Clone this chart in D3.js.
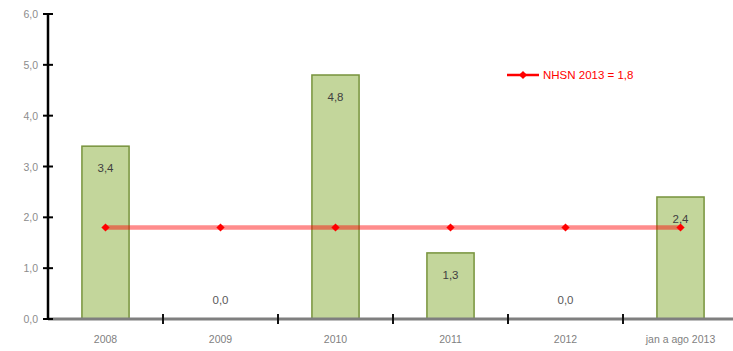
<!DOCTYPE html>
<html>
<head>
<meta charset="utf-8">
<script src="https://cdn.jsdelivr.net/npm/d3@7"></script>
<style>
  body { margin: 0; background: #fff; }
  svg { display: block; }
</style>
</head>
<body>
<div id="chart"></div>
<script>
const categories = ["2008", "2009", "2010", "2011", "2012", "jan a ago 2013"];
const values = [3.4, 0.0, 4.8, 1.3, 0.0, 2.4];
const nhsn = [1.8, 1.8, 1.8, 1.8, 1.8, 1.8];
const yTicks = [0, 1, 2, 3, 4, 5, 6];
const legendLabel = "NHSN 2013 = 1,8";

const width = 733;
const height = 351;
const margin = { top: 14, right: -5, bottom: 32, left: 48 };

const fmt = (d) => d3.format(".1f")(d).replace(".", ",");

const svg = d3.select("#chart")
  .append("svg")
  .attr("width", width)
  .attr("height", height)
  .style("font-family", "'Liberation Sans', Arial, sans-serif");

const x = d3.scaleBand()
  .domain(categories)
  .range([margin.left, width - margin.right])
  .padding(0);

const y = d3.scaleLinear()
  .domain([0, 6])
  .range([height - margin.bottom, margin.top]);

const barW = x.bandwidth() * 0.41;
const cx = (d) => x(d) + x.bandwidth() / 2;

// barras
svg.append("g")
  .selectAll("rect")
  .data(categories)
  .enter()
  .append("rect")
  .attr("x", (d) => cx(d) - barW / 2)
  .attr("y", (d, i) => y(values[i]))
  .attr("width", barW)
  .attr("height", (d, i) => y(0) - y(values[i]))
  .attr("fill", "#c3d69b")
  .attr("stroke", "#77933c")
  .attr("stroke-width", 1.5);

// eje x
svg.append("line")
  .attr("x1", margin.left)
  .attr("x2", width)
  .attr("y1", y(0))
  .attr("y2", y(0))
  .attr("stroke", "#7f7f7f")
  .attr("stroke-width", 3);

svg.append("g")
  .selectAll("line")
  .data(categories.slice(1))
  .enter()
  .append("line")
  .attr("x1", (d) => x(d))
  .attr("x2", (d) => x(d))
  .attr("y1", y(0) - 5)
  .attr("y2", y(0) + 5)
  .attr("stroke", "#111")
  .attr("stroke-width", 2);

svg.append("g")
  .selectAll("text")
  .data(categories)
  .enter()
  .append("text")
  .attr("x", cx)
  .attr("y", y(0) + 24)
  .attr("text-anchor", "middle")
  .attr("fill", "#7f7f7f")
  .style("font-size", "10.5px")
  .text((d) => d);

// eje y
svg.append("line")
  .attr("x1", margin.left)
  .attr("x2", margin.left)
  .attr("y1", y(6))
  .attr("y2", y(0))
  .attr("stroke", "#000")
  .attr("stroke-width", 2.5);

svg.append("g")
  .selectAll("line")
  .data(yTicks)
  .enter()
  .append("line")
  .attr("x1", margin.left - 5)
  .attr("x2", margin.left + 5)
  .attr("y1", (d) => y(d))
  .attr("y2", (d) => y(d))
  .attr("stroke", "#000")
  .attr("stroke-width", 2);

svg.append("g")
  .selectAll("text")
  .data(yTicks)
  .enter()
  .append("text")
  .attr("x", margin.left - 10)
  .attr("y", (d) => y(d) + 4)
  .attr("text-anchor", "end")
  .attr("fill", "#8c8c8c")
  .style("font-size", "10.5px")
  .text(fmt);

// etiquetas de valores
svg.append("g")
  .selectAll("text")
  .data(categories)
  .enter()
  .append("text")
  .attr("x", cx)
  .attr("y", (d, i) => values[i] > 0 ? y(values[i]) + 26 : y(0) - 15)
  .attr("text-anchor", "middle")
  .attr("fill", (d, i) => values[i] > 0 ? "#404040" : "#595959")
  .style("font-size", "11.5px")
  .text((d, i) => fmt(values[i]));

// linea NHSN
const line = d3.line()
  .x((d, i) => cx(categories[i]))
  .y((d) => y(d));

svg.append("path")
  .datum(nhsn)
  .attr("d", line)
  .attr("fill", "none")
  .attr("stroke", "#ff0000")
  .attr("stroke-opacity", 0.45)
  .attr("stroke-width", 4.5);

const diamond = d3.symbol().type(d3.symbolSquare).size(34);

svg.append("g")
  .selectAll("path")
  .data(nhsn)
  .enter()
  .append("path")
  .attr("d", diamond)
  .attr("transform", (d, i) => `translate(${cx(categories[i])},${y(d)}) rotate(45)`)
  .attr("fill", "#ff0000");

// leyenda
const lg = svg.append("g").attr("transform", "translate(507,75)");
lg.append("line")
  .attr("x1", 0)
  .attr("x2", 32)
  .attr("stroke", "#ff0000")
  .attr("stroke-width", 2.5);
lg.append("path")
  .attr("d", diamond)
  .attr("transform", "translate(16,0) rotate(45)")
  .attr("fill", "#ff0000");
lg.append("text")
  .attr("x", 36)
  .attr("y", 4)
  .attr("fill", "#ff0000")
  .style("font-size", "11.5px")
  .text(legendLabel);
</script>
</body>
</html>
